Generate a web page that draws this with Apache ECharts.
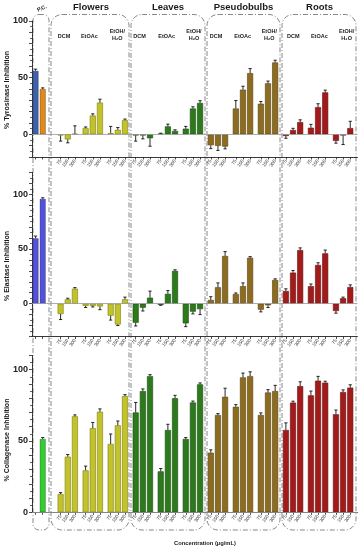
<!DOCTYPE html>
<html><head><meta charset="utf-8">
<script src="https://cdn.jsdelivr.net/npm/echarts@6/dist/echarts.min.js"></script>
<style>html,body{margin:0;padding:0;background:#fff}#c{width:361px;height:550px}</style>
</head><body><div id="c"></div>
<script>
const sections = ['Flowers', 'Leaves', 'Pseudobulbs', 'Roots'];
const solvents = ['DCM', 'EtOAc', 'EtOH/', 'H\u2082O'];
const concentrations = ['75', '150', '300'];

// % Tyrosinase inhibition
const tyrPC = [56, 40];
const tyrPCErr = [1.5, 1];
const tyrFlowers = [-1, -4.5, 0.5, 5.5, 16.6, 28, 1, 4, 12.5];
const tyrFlowersErr = [5, 3, 7, 1, 1.5, 3, 6, 2, 1];
const tyrLeaves = [-1, -1, -3.5, 0.5, 7, 3, 5, 22.8, 27.7];
const tyrLeavesErr = [5, 3, 7, 0.5, 2, 1, 2, 1.5, 2];
const tyrPseudobulbs = [-9.6, -10.2, -10.8, 22.8, 39.4, 54, 27, 45, 63.4];
const tyrPseudobulbsErr = [3, 4, 2, 7, 3, 4, 2, 2, 2];
const tyrRoots = [-1.5, 3.8, 10.8, 5.8, 24, 37, -5.8, -1, 5.5];
const tyrRootsErr = [2, 1.5, 2, 3, 3, 2, 2, 8, 6];

// % Elastase inhibition
const elaPC = [59.8, 95.8];
const elaPCErr = [2, 1];
const elaFlowers = [-9.5, 4, 13.7, -2, -2, -2.5, -11, -19, 4];
const elaFlowersErr = [5, 1, 1, 1.5, 1, 3, 4, 1, 2];
const elaLeaves = [-17.4, -3.7, 5.5, -1, 9, 30, -18, -7.3, -5];
const elaLeavesErr = [3, 3, 6, 0.5, 3, 1, 3, 2, 5];
const elaPseudobulbs = [3.4, 15, 43.6, 8.8, 16, 42, -5.5, -1.5, 21.7];
const elaPseudobulbsErr = [3, 4, 4, 1, 3, 1, 2, 2, 1];
const elaRoots = [11.6, 28.4, 49, 16, 35.4, 46, -6.7, 5, 15.2];
const elaRootsErr = [2, 2, 2, 2, 2, 3, 2, 1, 2];

// % Collagenase inhibition
const colPC = [null, 51.4];
const colPCErr = [0, 1];
const colFlowers = [12.8, 39, 67.3, 29.4, 59, 70.5, 47.9, 61, 81.5];
const colFlowersErr = [1, 1.5, 1, 3, 4, 2, 7, 3, 1];
const colLeaves = [70, 85, 95.5, 28.7, 57.7, 80, 51.4, 77, 89.7];
const colLeavesErr = [7, 1.5, 1, 2, 4, 2, 1, 1, 1];
const colPseudobulbs = [41.8, 68.2, 81, 74, 94.6, 95.5, 68.2, 84, 85];
const colPseudobulbsErr = [2, 1, 6, 1.5, 3, 3, 1.5, 2, 4];
const colRoots = [57.7, 76.9, 88.5, 82, 92.3, 90.9, 68.7, 84.3, 87.4];
const colRootsErr = [5, 1, 3, 3, 3, 1, 3, 1.5, 2];

const tyrPCColors = ['#3d62ab', '#e3891b'];
const elaPCColors = ['#5252de', '#5252de'];
const colPCColors = ['#33cc33', '#33cc33'];
const sectionColors = ['#c2c22a', '#2d7a1c', '#8c6c1f', '#a31a1a'];
const sectionBorders = ['#7d7d10', '#1a4c10', '#584010', '#661010'];

// slot layout
const N = 92;
const pcIdx = [1, 3];
const secStart = [8, 29, 50, 71];
const barOffsets = [0, 2, 4, 7, 9, 11, 14, 16, 18];
const isBar = new Array(N).fill(false);
const labelOf = new Array(N).fill('');
pcIdx.forEach(i => isBar[i] = true);
secStart.forEach(s => barOffsets.forEach((o, k) => { isBar[s + o] = true; labelOf[s + o] = concentrations[k % 3]; }));
const cats = Array.from({length: N}, (_, i) => String(i));

function buildPanel(g, pcVals, pcErr, pcColors, secVals, secErr) {
  const bars = new Array(N).fill(null);
  const errs = [];
  pcVals.forEach((v, k) => {
    if (v == null) return;
    bars[pcIdx[k]] = {value: v, itemStyle: {color: pcColors[k], borderColor: 'rgba(0,0,0,0.45)'}};
    errs.push([pcIdx[k], v, pcErr[k]]);
  });
  secVals.forEach((arr, s) => {
    arr.forEach((v, k) => {
      const idx = secStart[s] + barOffsets[k];
      bars[idx] = {value: v, itemStyle: {color: sectionColors[s], borderColor: sectionBorders[s]}};
      errs.push([idx, v, secErr[s][k]]);
    });
  });
  return [{
    type: 'bar', xAxisIndex: g, yAxisIndex: g, data: bars, barWidth: 6,
    itemStyle: {borderWidth: 0.6}, silent: true, animation: false,
    markLine: {silent: true, symbol: 'none', label: {show: false},
      lineStyle: {color: '#999', width: 0.8, type: 'solid'}, data: [{yAxis: 0}]}
  }, {
    type: 'custom', xAxisIndex: g, yAxisIndex: g, data: errs, silent: true, animation: false, z: 5,
    encode: {x: 0, y: 1},
    renderItem: function (params, api) {
      const i = api.value(0), v = api.value(1), e = api.value(2);
      const s = v >= 0 ? 1 : -1;
      const p0 = api.coord([i, v]);
      const p1 = api.coord([i, v + s * e]);
      const st = {stroke: '#111', lineWidth: 0.9};
      return {type: 'group', children: [
        {type: 'line', shape: {x1: p0[0], y1: p0[1], x2: p1[0], y2: p1[1]}, style: st},
        {type: 'line', shape: {x1: p1[0] - 1.6, y1: p1[1], x2: p1[0] + 1.6, y2: p1[1]}, style: st}
      ]};
    }
  }];
}

const gridLeft = 32, gridRight = 3.6;
const grids = [
  {left: gridLeft, right: gridRight, top: 21, height: 136},
  {left: gridLeft, right: gridRight, top: 172.4, height: 164.1},
  {left: gridLeft, right: gridRight, top: 355.4, height: 156.9}
];
const yRanges = [[-20, 100], [-30, 120], [0, 110]];

function xAxis(g) {
  return {
    type: 'category', gridIndex: g, data: cats, boundaryGap: false,
    axisLine: {onZero: false, lineStyle: {color: '#222', width: 0.9}},
    axisTick: {show: true, interval: (i) => isBar[i], length: 2.5, lineStyle: {color: '#222', width: 0.8}},
    axisLabel: {show: true, interval: (i) => labelOf[i] !== '', formatter: (v) => labelOf[+v],
      rotate: 55, fontSize: 4.8, margin: 3, color: '#444', fontFamily: 'Liberation Sans'},
    splitLine: {show: false}
  };
}
function yAxis(g) {
  return {
    type: 'value', gridIndex: g, min: yRanges[g][0], max: yRanges[g][1], interval: 10,
    axisLine: {show: true, lineStyle: {color: '#222', width: 0.9}},
    axisTick: {show: true, length: 3, lineStyle: {color: '#222', width: 0.8}},
    minorTick: {show: true, splitNumber: 2, length: 2, lineStyle: {color: '#222', width: 0.7}},
    splitLine: {show: false},
    axisLabel: {formatter: (v) => (v >= 0 && v % 50 === 0) ? String(v) : '', fontSize: 9, fontWeight: 'bold',
      color: '#222', margin: 4, fontFamily: 'Liberation Sans'}
  };
}

const secVT = [tyrFlowers, tyrLeaves, tyrPseudobulbs, tyrRoots];
const secET = [tyrFlowersErr, tyrLeavesErr, tyrPseudobulbsErr, tyrRootsErr];
const secVE = [elaFlowers, elaLeaves, elaPseudobulbs, elaRoots];
const secEE = [elaFlowersErr, elaLeavesErr, elaPseudobulbsErr, elaRootsErr];
const secVC = [colFlowers, colLeaves, colPseudobulbs, colRoots];
const secEC = [colFlowersErr, colLeavesErr, colPseudobulbsErr, colRootsErr];

const series = [].concat(
  buildPanel(0, tyrPC, tyrPCErr, tyrPCColors, secVT, secET),
  buildPanel(1, elaPC, elaPCErr, elaPCColors, secVE, secEE),
  buildPanel(2, colPC, colPCErr, colPCColors, secVC, secEC)
);

// decorations
const boxStyle = {fill: 'none', stroke: '#555', lineWidth: 0.7, lineDash: [5, 2, 1, 2]};
const boxes = [[33, 49, 6], [51, 129, 11], [131, 205, 11], [207, 280, 11], [282, 356, 11]];
const graphics = [];
boxes.forEach(b => graphics.push({type: 'rect', silent: true, z: -1,
  shape: {x: b[0], y: 14.5, width: b[1] - b[0], height: 530 - 14.5, r: b[2]}, style: boxStyle}));
const bold = (txt, x, y, size, extra) => Object.assign({type: 'text', silent: true, x: x, y: y,
  style: {text: txt, fontSize: size, fontWeight: 'bold', fill: '#1a1a1a', fontFamily: 'Liberation Sans',
    textAlign: 'center', textVerticalAlign: 'middle'}}, extra || {});
const headerX = [91, 168, 243.5, 319.5];
sections.forEach((s, i) => graphics.push(bold(s, headerX[i], 7.5, 9.5)));
graphics.push(bold('P.C.', 42, 8.5, 5.5, {rotation: 0.4}));
const subX = [[64, 89.3, 117.3], [139.5, 166.7, 194], [216, 242.7, 269.3], [293.3, 319.3, 346.7]];
subX.forEach(xs => {
  graphics.push(bold(solvents[0], xs[0], 36, 5.5));
  graphics.push(bold(solvents[1], xs[1], 36, 5.5));
  graphics.push(bold(solvents[2], xs[2], 31, 5.5));
  graphics.push(bold(solvents[3], xs[2], 38.5, 5.5));
});
const yNames = ['% Tyrosinase Inhibition', '% Elastase Inhibition', '% Collagenase Inhibition'];
const yNameY = [90, 266, 440];
yNames.forEach((t, i) => graphics.push(bold(t, 7.5, yNameY[i], 7, {rotation: Math.PI / 2})));
graphics.push(bold('Concentration (\u00b5g/mL)', 205, 543, 5.8));

const chart = echarts.init(document.getElementById('c'), null, {renderer: 'canvas'});
chart.setOption({
  animation: false,
  backgroundColor: '#fff',
  grid: grids,
  xAxis: [0, 1, 2].map(xAxis),
  yAxis: [0, 1, 2].map(yAxis),
  series: series,
  graphic: graphics
});
</script></body></html>
